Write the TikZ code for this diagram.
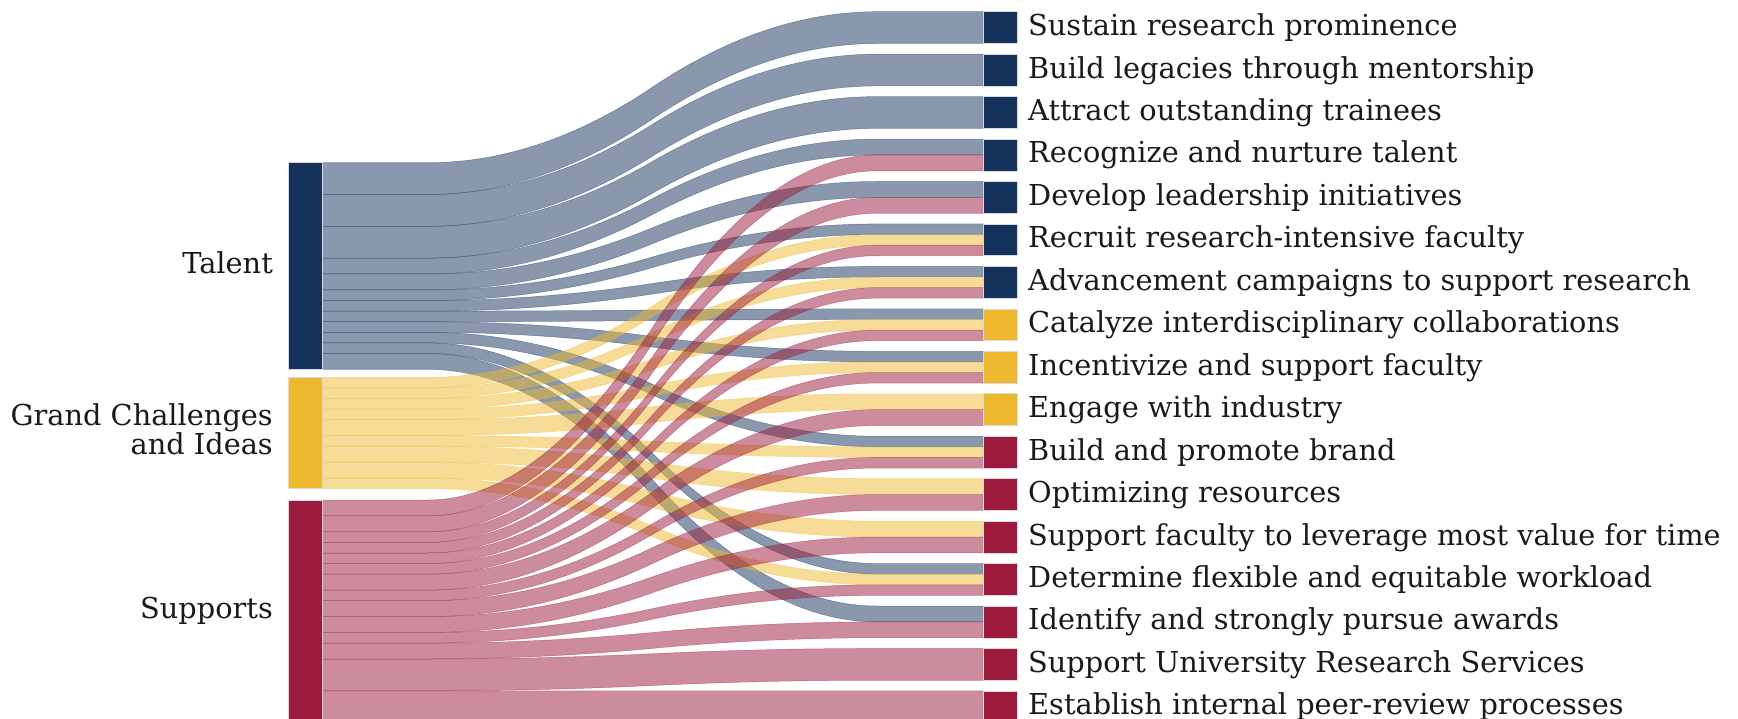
\documentclass[tikz,border=0pt]{standalone}
\usepackage{fontspec}
\setmainfont{DejaVu Serif}
\usetikzlibrary{calc,backgrounds}

\definecolor{navy}{HTML}{14325B}
\definecolor{gold}{HTML}{EEB92F}
\definecolor{crimson}{HTML}{9C1A3B}

% one unit of flow, in pt
\newcommand{\ku}{5.3}

% ribbon: #1 source node, #2 offset on source, #3 target node,
% #4 offset on target, #5 width (all in flow units), #6 style.
% Each edge runs flat, then follows a smooth step made of two parabolas
% between x = 427.8 and x = 877.2, then runs flat again.
\newcommand{\sklink}[6]{%
  \path[#6] let \p1=($(#1.north east)+(0,#2*\ku)$),
                \p2=($(#3.north west)+(0,#4*\ku)$),
                \p3=($(#1.north east)+(0,#2*\ku+#5*\ku)$),
                \p4=($(#3.north west)+(0,#4*\ku+#5*\ku)$) in
    (\p1) -- (427.8pt,\y1)
      .. controls (502.7pt,\y1) and (577.6pt,{\y1+(\y2-\y1)/6}) .. (652.5pt,{(\y1+\y2)/2})
      .. controls (727.4pt,{\y2-(\y2-\y1)/6}) and (802.3pt,\y2) .. (877.2pt,\y2)
      -- (\p2) -- (\p4) -- (877.2pt,\y4)
      .. controls (802.3pt,\y4) and (727.4pt,{\y4-(\y4-\y3)/6}) .. (652.5pt,{(\y3+\y4)/2})
      .. controls (577.6pt,{\y3+(\y4-\y3)/6}) and (502.7pt,\y3) .. (427.8pt,\y3)
      -- (\p3) -- cycle;}

\begin{document}
\begin{tikzpicture}[x=1pt,y=-1pt,
  bar/.style={draw=black!15, line width=0.6pt, inner sep=0pt, outer sep=0pt,
    minimum width=34pt, anchor=north west},
  lab/.style={font=\fontsize{28.8}{29}\selectfont, text=black!90, inner sep=0pt},
  flowT/.style={fill=navy, fill opacity=0.5, draw=navy, draw opacity=0.45, line width=0.5pt},
  flowG/.style={fill=gold, fill opacity=0.5, draw=gold, draw opacity=0.45, line width=0.5pt},
  flowS/.style={fill=crimson, fill opacity=0.5, draw=crimson, draw opacity=0.45, line width=0.5pt}]
\useasboundingbox (0,0) rectangle (1738,719);

% source column
\node[bar, fill=navy,    minimum height=206.7pt] (T) at (288,162.7) {};
\node[bar, fill=gold,    minimum height=111.3pt] (G) at (288,377.3) {};
\node[bar, fill=crimson, minimum height=222.6pt] (S) at (288,500) {};

% target column
\foreach \i/\c in {0/navy,1/navy,2/navy,3/navy,4/navy,5/navy,6/navy,
                   7/gold,8/gold,9/gold,
                   10/crimson,11/crimson,12/crimson,13/crimson,14/crimson,15/crimson,16/crimson}
  \node[bar, fill=\c, minimum height=31.8pt] (r\i) at (983,{11.7+42.45*\i}) {};

% ribbons
\begin{scope}[on background layer]
\foreach \s/\so/\t/\to/\v in {
    T/0/0/0/6, T/6/1/0/6, T/12/2/0/6, T/18/3/0/3, T/21/4/0/3, T/24/5/0/2,
    T/26/6/0/2, T/28/7/0/2, T/30/8/0/2, T/32/10/0/2, T/34/13/0/2, T/36/14/0/3,
    G/0/5/2/2, G/2/6/2/2, G/4/7/2/2, G/6/8/2/2, G/8/9/0/3, G/11/10/2/2,
    G/13/11/0/3, G/16/12/0/3, G/19/13/2/2,
    S/0/3/3/3, S/3/4/3/3, S/6/5/4/2, S/8/6/4/2, S/10/7/4/2, S/12/8/4/2,
    S/14/9/3/3, S/17/10/4/2, S/19/11/3/3, S/22/12/3/3, S/25/13/4/2,
    S/27/14/3/3, S/30/15/0/6, S/36/16/0/6}
  \sklink{\s}{\so}{r\t}{\to}{\v}{flow\s};
\end{scope}

% source labels
\node[lab, anchor=base east] (lT) at ($(T.west)+(-15,7)$) {Talent};
\node[lab, anchor=base east, align=right] (lG) at ($(G.west)+(-15,22)$) {Grand Challenges\\and Ideas};
\node[lab, anchor=base east] (lS) at ($(S.west)+(-15,7)$) {Supports};

% target labels
\foreach \i/\txt in {
    0/Sustain research prominence,
    1/Build legacies through mentorship,
    2/Attract outstanding trainees,
    3/Recognize and nurture talent,
    4/Develop leadership initiatives,
    5/Recruit research-intensive faculty,
    6/Advancement campaigns to support research,
    7/Catalyze interdisciplinary collaborations,
    8/Incentivize and support faculty,
    9/Engage with industry,
    10/Build and promote brand,
    11/Optimizing resources,
    12/Support faculty to leverage most value for time,
    13/Determine flexible and equitable workload,
    14/Identify and strongly pursue awards,
    15/Support University Research Services,
    16/Establish internal peer-review processes}
  \node[lab, anchor=base west] (l\i) at ($(r\i.east)+(11,8)$) {\txt};
\end{tikzpicture}
\end{document}
